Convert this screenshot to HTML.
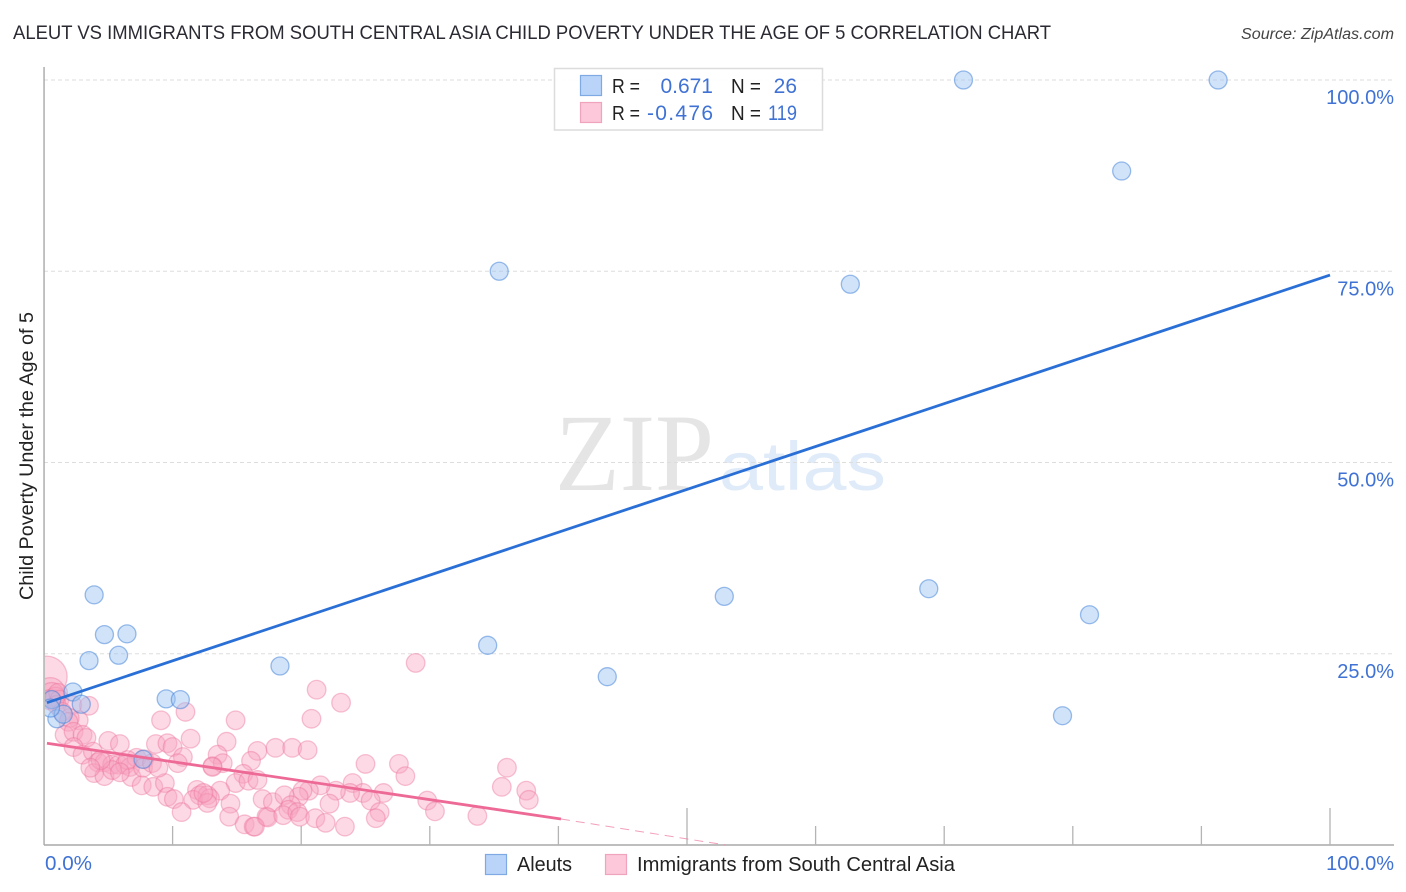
<!DOCTYPE html>
<html lang="en">
<head>
<meta charset="utf-8">
<title>Aleut vs Immigrants from South Central Asia Child Poverty Correlation Chart</title>
<style>
html,body{margin:0;padding:0;background:#fff;}
body{width:1406px;height:892px;overflow:hidden;}
svg{display:block;font-family:"Liberation Sans",sans-serif;}
</style>
</head>
<body>
<svg id="chart" width="1406" height="892" viewBox="0 0 1406 892" xmlns="http://www.w3.org/2000/svg">
  <defs>
    <clipPath id="plot-clip"><rect x="45" y="60" width="1350" height="785"/></clipPath>
  </defs>
  <rect x="0" y="0" width="1406" height="892" fill="#ffffff"/>
  <text x="13" y="39" font-size="19.5" fill="#2a2a33" textLength="1038" lengthAdjust="spacingAndGlyphs">ALEUT VS IMMIGRANTS FROM SOUTH CENTRAL ASIA CHILD POVERTY UNDER THE AGE OF 5 CORRELATION CHART</text>
  <text x="1241" y="39" font-size="15.5" font-style="italic" fill="#444" textLength="153" lengthAdjust="spacingAndGlyphs">Source: ZipAtlas.com</text>

  <g id="watermark">
    <text x="555" y="490" font-family="'Liberation Serif',serif" font-size="110" fill="#e5e5e5" textLength="159" lengthAdjust="spacingAndGlyphs">ZIP</text>
    <text x="719" y="490" font-size="69" fill="#e0ebfa" textLength="167" lengthAdjust="spacingAndGlyphs">atlas</text>
  </g>

  <g id="grid"></g>
  <g id="axes"></g>
  <g id="pink-points" clip-path="url(#plot-clip)"></g>
  <g id="blue-points" clip-path="url(#plot-clip)"></g>
  <rect x="0" y="60" width="43.2" height="785" fill="#ffffff"/>
  <g id="trends"></g>
  <g id="labels"></g>

  <g>
    <rect x="554.5" y="68.5" width="268" height="61.5" fill="#ffffff" fill-opacity="0.9" stroke="#dcdcdc" stroke-width="1.5"/>
    <rect x="580.5" y="75.5" width="21" height="20" fill="#b9d4f8" stroke="#7fa9e2" stroke-width="1.2"/>
    <rect x="580.5" y="102.5" width="21" height="20" fill="#fcc8da" stroke="#f0a3bd" stroke-width="1.2"/>
    <text x="612" y="93" font-size="20" fill="#222" textLength="28" lengthAdjust="spacingAndGlyphs">R =</text>
    <text x="713" y="93" font-size="21" fill="#3f72d4" text-anchor="end">0.671</text>
    <text x="731" y="93" font-size="20" fill="#222" textLength="30" lengthAdjust="spacingAndGlyphs">N =</text>
    <text x="797" y="93" font-size="21" fill="#3f72d4" text-anchor="end">26</text>
    <text x="612" y="120" font-size="20" fill="#222" textLength="28" lengthAdjust="spacingAndGlyphs">R =</text>
    <text x="647" y="120" font-size="21" fill="#3f72d4" textLength="66" lengthAdjust="spacing">-0.476</text>
    <text x="731" y="120" font-size="20" fill="#222" textLength="30" lengthAdjust="spacingAndGlyphs">N =</text>
    <text x="768" y="120" font-size="21" fill="#3f72d4" textLength="29" lengthAdjust="spacingAndGlyphs">119</text>
  </g>

  <g>
    <g>
      <rect x="485.5" y="854.5" width="21" height="20" fill="#b9d4f8" stroke="#7fa9e2" stroke-width="1.2"/>
      <text x="517" y="871" font-size="20" fill="#222" textLength="55" lengthAdjust="spacingAndGlyphs">Aleuts</text>
    </g>
    <g>
      <rect x="605.5" y="854.5" width="21" height="20" fill="#fcc8da" stroke="#f0a3bd" stroke-width="1.2"/>
      <text x="637" y="871" font-size="20" fill="#222" textLength="318" lengthAdjust="spacingAndGlyphs">Immigrants from South Central Asia</text>
    </g>
  </g>

  <text transform="translate(33,456) rotate(-90)" text-anchor="middle" font-size="19" fill="#222" textLength="288" lengthAdjust="spacingAndGlyphs">Child Poverty Under the Age of 5</text>
</svg>

<script>
// Y ticks and X ticks (percent)
const yTickValues = [25, 50, 75, 100];
const yTickLabels = ["25.0%", "50.0%", "75.0%", "100.0%"];
const xTickValues = [10, 20, 30, 40, 50, 60, 70, 80, 90, 100];
const xMajorTicks = [50, 100];
const xEndLabels = ["0.0%", "100.0%"];

// Aleuts series
const aleutX = [71.5, 91.3, 83.8, 35.4, 62.7, 3.9, 4.7, 6.45, 3.5, 5.8, 18.35, 34.5, 43.8, 52.9, 68.8, 81.3, 79.2, 9.5, 10.6, 2.25, 2.9, 1.0, 1.5, 0.6, 0.5, 7.7];
const aleutY = [100, 100, 88.1, 75, 73.3, 32.7, 27.5, 27.6, 24.1, 24.8, 23.4, 26.1, 22, 32.5, 33.5, 30.1, 16.9, 19.1, 19, 20, 18.4, 16.5, 17.1, 19, 17.9, 11.2];

// Immigrants series
const immigrantX = [0.2, 0.5, 0.6, 0.5, 0.9, 1.1, 1.2, 1.0, 2.2, 3.5, 2.7, 2.0, 1.4, 1.9, 1.6, 2.3, 3.0, 3.3, 2.3, 3.0, 3.8, 5.0, 5.9, 4.2, 4.7, 5.3, 5.8, 6.3, 3.9, 4.7, 5.3, 6.7, 6.8, 7.6, 8.5, 9.4, 7.2, 7.8, 7.7, 8.4, 8.9, 8.7, 9.6, 10.0, 10.8, 10.4, 11.4, 9.1, 11.0, 14.9, 14.2, 16.6, 18.0, 16.1, 13.5, 13.1, 13.9, 13.1, 15.5, 14.9, 15.9, 16.6, 13.7, 14.5, 11.9, 12.1, 12.7, 11.6, 12.9, 12.7, 12.4, 9.6, 10.1, 10.7, 14.4, 15.6, 16.3, 17.3, 17.4, 17.0, 17.8, 28.9, 21.2, 23.1, 20.8, 19.3, 20.5, 25.0, 27.6, 28.1, 36.0, 35.6, 37.5, 37.7, 33.7, 29.8, 30.4, 26.4, 24.0, 24.8, 25.4, 23.8, 22.7, 21.5, 20.6, 20.1, 19.8, 18.7, 22.2, 19.2, 19.0, 18.6, 19.7, 19.9, 21.1, 21.9, 23.4, 26.1, 25.8, 16.4, 4.4, 6.5, 3.6, 5.9];
const immigrantY = [22.0, 20.0, 19.6, 19.0, 19.3, 19.9, 19.0, 18.3, 18.3, 18.2, 16.3, 16.6, 17.4, 16.1, 14.4, 14.8, 14.4, 14.0, 12.8, 11.8, 12.2, 13.6, 13.2, 10.8, 10.8, 10.5, 10.5, 10.5, 9.4, 9.0, 9.8, 10.2, 8.9, 7.8, 7.6, 8.1, 11.4, 11.2, 10.1, 10.7, 10.1, 13.2, 13.3, 12.8, 11.5, 10.7, 13.9, 16.3, 17.4, 16.3, 13.5, 12.3, 12.7, 11.0, 11.8, 10.3, 10.7, 10.2, 9.3, 8.1, 8.4, 8.5, 7.1, 5.4, 7.2, 6.5, 6.5, 5.9, 6.1, 5.5, 6.8, 6.3, 6.0, 4.3, 3.7, 2.7, 2.4, 3.7, 3.6, 6.0, 5.6, 23.8, 20.3, 18.6, 16.5, 12.7, 12.4, 10.6, 10.6, 9.0, 10.1, 7.6, 7.1, 5.9, 3.8, 5.8, 4.4, 6.8, 8.1, 6.8, 5.8, 6.8, 7.1, 7.8, 7.1, 7.1, 6.3, 6.5, 5.4, 5.2, 4.6, 3.9, 4.3, 3.7, 3.5, 2.9, 2.4, 4.3, 3.5, 2.4, 11.1, 11.1, 10.1, 9.5];
// Relative sample weight of the first immigrant points (the rest weigh 1)
const immigrantWeight = [4.9, 2.4, 1.8, 1.2, 1.2];

// Trend lines: x values and fitted y values
const aleutTrendX = [0.23, 100];
const aleutTrendY = [18.6, 74.5];
const immigrantTrendX = [0.23, 40.2];
const immigrantTrendY = [13.3, 3.4];
const immigrantDashX = [40.2, 53];
const immigrantDashY = [3.4, 0];

const NS = "http://www.w3.org/2000/svg";
const plot = { left: 44, right: 1330, top: 80, bottom: 845, end: 1394 };
function xScale(v) { return plot.left + (v / 100) * (plot.right - plot.left); }
function yScale(v) { return plot.bottom - (v / 100) * (plot.bottom - plot.top); }
function make(tag, attrs) {
  const el = document.createElementNS(NS, tag);
  for (const k in attrs) el.setAttribute(k, attrs[k]);
  return el;
}

const grid = document.getElementById('grid');
yTickValues.forEach(function (v) {
  const el = make('line', { x1: plot.left, x2: plot.end, y1: yScale(v), y2: yScale(v), stroke: '#dddddd', 'stroke-width': 1, 'stroke-dasharray': '4 3' });
  
  
  grid.appendChild(el);
});

const axes = document.getElementById('axes');
const yAxisLine = make('line', { x1: plot.left, x2: plot.left, y1: 67, y2: plot.bottom, stroke: '#a8a8a8', 'stroke-width': 1.5 });


axes.appendChild(yAxisLine);
const xAxisLine = make('line', { x1: plot.left, x2: plot.end, y1: plot.bottom, y2: plot.bottom, stroke: '#a8a8a8', 'stroke-width': 1.5 });


axes.appendChild(xAxisLine);
xTickValues.forEach(function (v) {
  const top = xMajorTicks.indexOf(v) >= 0 ? 808 : 826;
  const el = make('line', { x1: xScale(v), x2: xScale(v), y1: top, y2: plot.bottom, stroke: '#b4b4b4', 'stroke-width': 1.3 });
  
  
  axes.appendChild(el);
});

const pinkGroup = document.getElementById('pink-points');
immigrantX.forEach(function (v, i) {
  const w = immigrantWeight[i] || 1;
  const el = make('circle', { cx: xScale(v), cy: yScale(immigrantY[i]), r: 9.3 * Math.sqrt(w), fill: 'rgba(248,165,192,0.42)', stroke: 'rgba(236,115,155,0.42)', 'stroke-width': 1.3 });
  
  
  pinkGroup.appendChild(el);
});

const blueGroup = document.getElementById('blue-points');
aleutX.forEach(function (v, i) {
  const el = make('circle', { cx: xScale(v), cy: yScale(aleutY[i]), r: 9, fill: 'rgba(155,195,242,0.46)', stroke: 'rgba(60,125,215,0.5)', 'stroke-width': 1.3 });
  
  
  blueGroup.appendChild(el);
});

const trends = document.getElementById('trends');
const aleutLine = make('line', { x1: xScale(aleutTrendX[0]), y1: yScale(aleutTrendY[0]), x2: xScale(aleutTrendX[1]), y2: yScale(aleutTrendY[1]), stroke: '#2a6fd6', 'stroke-width': 2.8 });


trends.appendChild(aleutLine);
const immigrantLine = make('line', { x1: xScale(immigrantTrendX[0]), y1: yScale(immigrantTrendY[0]), x2: xScale(immigrantTrendX[1]), y2: yScale(immigrantTrendY[1]), stroke: '#ee6a96', 'stroke-width': 2.8 });


trends.appendChild(immigrantLine);
const immigrantDash = make('line', { x1: xScale(immigrantDashX[0]), y1: yScale(immigrantDashY[0]), x2: xScale(immigrantDashX[1]), y2: yScale(immigrantDashY[1]), stroke: '#ee7fa5', 'stroke-width': 1, 'stroke-dasharray': '9 6', 'stroke-opacity': 0.75 });


trends.appendChild(immigrantDash);

const labels = document.getElementById('labels');
yTickValues.forEach(function (v, i) {
  const el = make('text', { x: plot.end, y: yScale(v) + 24, 'text-anchor': 'end', 'font-size': 20, fill: '#3f72d4' });
  
  
  el.textContent = yTickLabels[i];
  labels.appendChild(el);
});
const xLabelStart = make('text', { x: plot.left + 1, y: 870, 'font-size': 20, fill: '#3f72d4', textLength: 47, lengthAdjust: 'spacingAndGlyphs' });


xLabelStart.textContent = xEndLabels[0];
labels.appendChild(xLabelStart);
const xLabelEnd = make('text', { x: plot.end, y: 870, 'text-anchor': 'end', 'font-size': 20, fill: '#3f72d4' });


xLabelEnd.textContent = xEndLabels[1];
labels.appendChild(xLabelEnd);
</script>
</body>
</html>
